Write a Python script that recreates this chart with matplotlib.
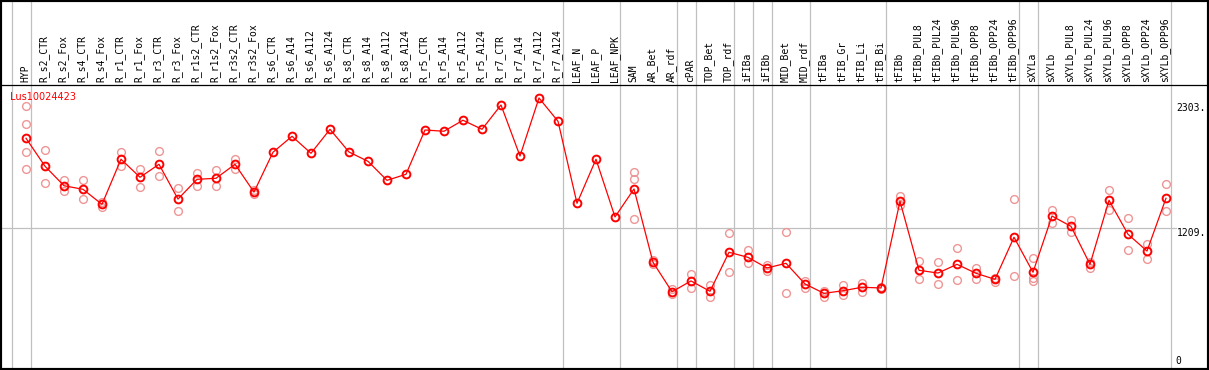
import matplotlib
matplotlib.use("Agg")
import matplotlib.pyplot as plt
import numpy as np
from matplotlib.patches import Rectangle

# Sample labels (one column each)
samples = [
    "HYP",
    "R_s2_CTR", "R_s2_Fox", "R_s4_CTR", "R_s4_Fox", "R_r1_CTR", "R_r1_Fox",
    "R_r3_CTR", "R_r3_Fox", "R_r1s2_CTR", "R_r1s2_Fox", "R_r3s2_CTR", "R_r3s2_Fox",
    "R_s6_CTR", "R_s6_A14", "R_s6_A112", "R_s6_A124",
    "R_s8_CTR", "R_s8_A14", "R_s8_A112", "R_s8_A124",
    "R_r5_CTR", "R_r5_A14", "R_r5_A112", "R_r5_A124",
    "R_r7_CTR", "R_r7_A14", "R_r7_A112", "R_r7_A124",
    "LEAF_N", "LEAF_P", "LEAF_NPK",
    "SAM", "AR_Bet", "AR_rdf", "cPAR", "TOP_Bet", "TOP_rdf",
    "iFIBa", "iFIBb", "MID_Bet", "MID_rdf",
    "tFIBa", "tFIB_Gr", "tFIB_Li", "tFIB_Bi",
    "tFIBb", "tFIBb_PUL8", "tFIBb_PUL24", "tFIBb_PUL96",
    "tFIBb_OPP8", "tFIBb_OPP24", "tFIBb_OPP96",
    "sXYLa", "sXYLb", "sXYLb_PUL8", "sXYLb_PUL24", "sXYLb_PUL96",
    "sXYLb_OPP8", "sXYLb_OPP24", "sXYLb_OPP96",
]

# Mean expression per sample
means = [
    1994,
    1750, 1580, 1549, 1418, 1811, 1654, 1767, 1464, 1636, 1645, 1767, 1525,
    1872, 2011, 1863, 2072, 1874, 1793, 1627, 1680,
    2066, 2055, 2151, 2072, 2284, 1839, 2345, 2142,
    1427, 1811, 1308,
    1552, 913, 656, 750, 660, 1000,
    956, 863, 904, 724,
    642, 665, 695, 689,
    1444, 843, 819, 895, 817, 764, 1131,
    826, 1316, 1226, 895, 1453, 1157, 1011, 1471,
]

# Replicate values per sample
replicates = [
    [2275, 2116, 1872, 1723],
    [1889, 1601], [1630, 1537], [1627, 1467], [1441, 1395], [1872, 1750],
    [1729, 1572], [1880, 1662], [1563, 1357], [1689, 1578], [1717, 1580],
    [1811, 1723], [1543, 1508],
    [], [], [], [], [], [], [], [],
    [], [], [], [], [], [], [], [],
    [], [], [],
    [1700, 1641, 1288], [933, 898], [677, 634], [811, 686], [715, 613],
    [1165, 826],
    [1020, 904], [892, 839], [1174, 642], [752, 691],
    [665, 610], [717, 628], [735, 656], [700, 677],
    [1493, 1412], [924, 771], [915, 721], [1035, 756], [863, 770],
    [778, 744], [1462, 791],
    [948, 778, 752], [1366, 1258], [1281, 1179], [915, 863], [1540, 1366],
    [1296, 1020], [1072, 941], [1593, 1357],
]

# Group separators are drawn just right of these columns
separators = [-1, 0, 28, 31, 34, 35, 37, 38, 39, 41, 45, 52, 53, 60]
y_ticks = [2303, 1209, 0]
gene = "Lus10024423"

fig = plt.figure(figsize=(12.09, 3.70), dpi=100)
ax = fig.add_axes([0, 0, 1, 285 / 370])

x = np.arange(len(samples))

# Horizontal gridline at the middle tick
ax.axhline(1209, xmax=1176 / 1209, color="#c0c0c0", lw=0.9, zorder=1)

# Vertical group separators, extended into the header
for s in separators:
    ax.axvline(s + 0.25, ymin=0, ymax=1.31, color="#c0c0c0", lw=0.9,
               clip_on=False, zorder=1)

# Replicates
for i, reps in enumerate(replicates):
    if reps:
        ax.plot([i] * len(reps), reps, linestyle="none", marker="o",
                markersize=5.6, markerfacecolor="none", markeredgecolor="#ee9595",
                markeredgewidth=1.0, zorder=2)

# Means
ax.plot(x, means, color="red", lw=0.9, marker="o", markersize=5.6,
        markerfacecolor="none", markeredgecolor="red", markeredgewidth=1.4,
        zorder=3)

ax.set_xlim(-26 / 19, (1209 - 26) / 19)
ax.set_ylim(-3 * 8.717, 282 * 8.717)
ax.set_xticks([])
ax.set_yticks([])
for side in ["left", "right", "bottom"]:
    ax.spines[side].set_visible(False)
ax.spines["top"].set_linewidth(0.9)
ax.spines["top"].set_color("black")

# Header labels
trans = ax.get_xaxis_transform()
for i, name in enumerate(samples):
    ax.text(i - 0.05, 1 + 3 / 285, name, transform=trans, rotation=90,
            ha="center", va="bottom", fontsize=7, family="DejaVu Sans Mono",
            color="black", clip_on=False)

# Right-hand value labels
xr = (1206 - 26) / 19
ax.text(xr, y_ticks[0], f"{y_ticks[0]}.", ha="right", va="top", fontsize=7,
        family="DejaVu Sans Mono")
ax.text(xr, y_ticks[1], f"{y_ticks[1]}.", ha="right", va="top", fontsize=7,
        family="DejaVu Sans Mono")
ax.text(xr - 1.3, 1.5 * 8.717, f"{y_ticks[2]}", ha="right", va="bottom",
        fontsize=7, family="DejaVu Sans Mono")

# Gene name
ax.text(10 / 1209, 1 - 7 / 285, gene, transform=ax.transAxes, ha="left",
        va="top", fontsize=7, color="red")

# Outer frame
fig.patches.append(Rectangle((0, 0), 1, 1, transform=fig.transFigure,
                             fill=False, edgecolor="black", lw=3, zorder=10))

fig.savefig("out.png", dpi=100)
plt.close(fig)
